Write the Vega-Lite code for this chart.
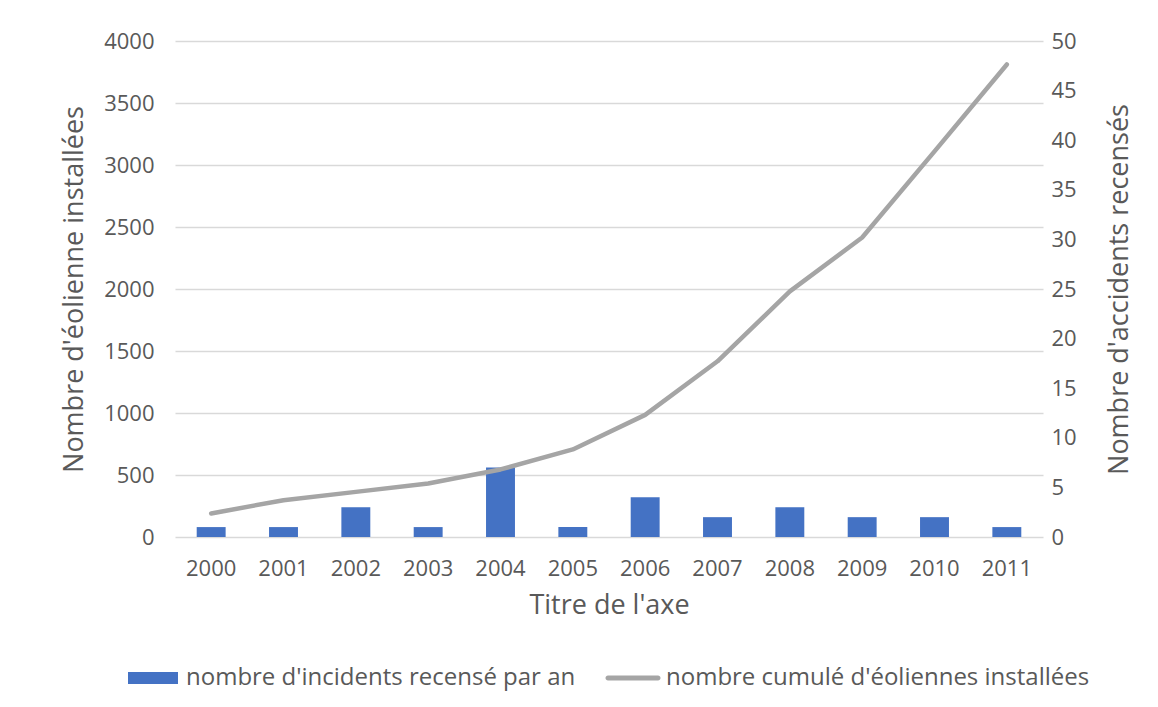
{
  "$schema": "https://vega.github.io/schema/vega-lite/v6.json",
  "width": 868,
  "height": 496,
  "padding": {"left": 60, "top": 30, "right": 10, "bottom": 10},
  "background": "white",
  "config": {
    "font": "Open Sans",
    "view": {"stroke": null},
    "axis": {"labelColor": "#595959", "titleColor": "#595959", "labelFontSize": 22, "titleFontSize": 27, "titleFontWeight": "normal", "ticks": false, "domain": false},
    "legend": {"layout": {"bottom": {"anchor": "middle", "margin": 8}}}
  },
  "data": {"values": [
    {"annee": "2000", "incidents": 1, "cumul": 190},
    {"annee": "2001", "incidents": 1, "cumul": 297},
    {"annee": "2002", "incidents": 3, "cumul": 364},
    {"annee": "2003", "incidents": 1, "cumul": 432},
    {"annee": "2004", "incidents": 7, "cumul": 545},
    {"annee": "2005", "incidents": 1, "cumul": 706},
    {"annee": "2006", "incidents": 4, "cumul": 985},
    {"annee": "2007", "incidents": 2, "cumul": 1417},
    {"annee": "2008", "incidents": 3, "cumul": 1981},
    {"annee": "2009", "incidents": 2, "cumul": 2415},
    {"annee": "2010", "incidents": 2, "cumul": 3110},
    {"annee": "2011", "incidents": 1, "cumul": 3811}
  ]},
  "layer": [
    {
      "mark": {"type": "bar", "width": {"band": 0.4}},
      "encoding": {
        "x": {"field": "annee", "type": "ordinal", "scale": {"paddingInner": 0, "paddingOuter": 0},
              "axis": {"title": "Titre de l'axe", "labelAngle": 0, "grid": false, "labelPadding": 21, "titlePadding": 13}},
        "y": {"field": "incidents", "type": "quantitative", "scale": {"domain": [0, 50]},
              "axis": {"orient": "right", "title": "Nombre d'accidents recensés", "values": [0, 5, 10, 15, 20, 25, 30, 35, 40, 45, 50], "grid": false, "labelPadding": 8, "titleAngle": -90, "titleBaseline": "top", "titlePadding": 30}},
        "fill": {"datum": "nombre d'incidents recensé par an", "type": "nominal",
                 "scale": {"range": ["#4472C4"]},
                 "legend": {"orient": "bottom", "direction": "horizontal", "title": null, "offset": 23, "padding": 12, "symbolType": "M-1,-0.24H1V0.24H-1Z", "symbolSize": 2500, "symbolStrokeWidth": 0, "labelFontSize": 24, "labelColor": "#595959", "labelOffset": 8, "labelLimit": 0}}
      }
    },
    {
      "mark": {"type": "line", "strokeWidth": 4.5, "strokeCap": "round", "strokeJoin": "round"},
      "encoding": {
        "x": {"field": "annee", "type": "ordinal"},
        "y": {"field": "cumul", "type": "quantitative", "scale": {"domain": [0, 4000]},
              "axis": {"orient": "left", "title": "Nombre d'éolienne installées", "format": "d", "values": [0, 500, 1000, 1500, 2000, 2500, 3000, 3500, 4000], "grid": true, "gridColor": "#D9D9D9", "gridWidth": 1.5, "labelPadding": 21, "titlePadding": 15}},
        "stroke": {"datum": "nombre cumulé d'éoliennes installées", "type": "nominal",
                   "scale": {"range": ["#A5A5A5"]},
                   "legend": {"orient": "bottom", "direction": "horizontal", "title": null, "offset": 23, "padding": 12, "symbolType": "M-1,-0.1H1A0.1,0.1,0,0,1,1,0.1H-1A0.1,0.1,0,0,1,-1,-0.1Z", "symbolSize": 2500, "symbolFillColor": "#A5A5A5", "symbolStrokeWidth": 0, "labelFontSize": 24, "labelColor": "#595959", "labelOffset": 8, "labelLimit": 0}}
      }
    }
  ],
  "resolve": {"scale": {"y": "independent"}}
}
